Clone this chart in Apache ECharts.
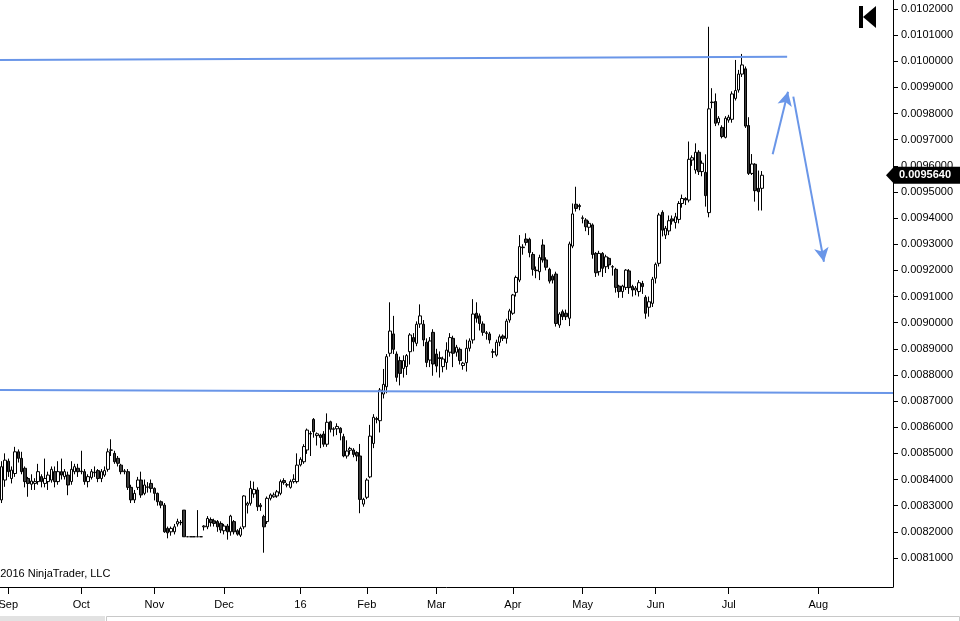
<!DOCTYPE html>
<html><head><meta charset="utf-8">
<script src="https://cdn.jsdelivr.net/npm/echarts@6.0.0/dist/echarts.min.js"></script>
<style>html,body{margin:0;padding:0;background:#fff;overflow:hidden}#c{width:960px;height:621px}</style>
</head><body><div id="c"></div>
<script>
// ---- data ----
const openP=[
0.008322,0.008398,0.00847,0.008404,0.008423,0.008506,0.008481,0.008443,0.008404,0.008382,
0.008385,0.008392,0.008411,0.008385,0.008392,0.008398,0.00843,0.008392,0.00843,0.008411,
0.008417,0.008392,0.00843,0.008443,0.00843,0.00843,0.008392,0.008408,0.008426,0.008434,
0.008404,0.008417,0.008439,0.008512,0.0085,0.008481,0.008455,0.00843,0.00843,0.00837,
0.008322,0.00837,0.008398,0.008347,0.00837,0.008385,0.008366,0.008347,0.008315,0.008302,
0.008213,0.0082,0.0082,0.00823,0.008235,0.008283,0.008181,0.008181,0.008181,0.008181,
0.008181,0.008219,0.008219,0.008247,0.008242,0.008239,0.008232,0.008204,0.008222,0.0082,
0.008239,0.008204,0.008187,0.008219,0.008302,0.008309,0.008345,0.00836,0.008302,0.008258,
0.008239,0.008328,0.008334,0.008337,0.008347,0.008396,0.00838,0.00837,0.008392,0.008392,
0.008456,0.008468,0.008513,0.008576,0.00863,0.008568,0.00857,0.008574,0.008535,0.008621,
0.008592,0.008594,0.008596,0.008564,0.00849,0.008512,0.008513,0.008503,0.00849,0.008306,
0.008332,0.00841,0.008538,0.00863,0.008625,0.008727,0.008755,0.008883,0.008957,0.00888,
0.008855,0.008825,0.008832,0.008889,0.008943,0.008921,0.008995,0.008994,0.008925,0.008857,
0.008963,0.00888,0.008866,0.008832,0.008848,0.008887,0.00894,0.008887,0.008898,0.008836,
0.008847,0.008902,0.008934,0.009036,0.009026,0.008995,0.008961,0.008957,0.008889,0.008876,
0.008925,0.008949,0.00894,0.00901,0.009036,0.009116,0.009163,0.009287,0.00932,0.009319,
0.009261,0.009201,0.009195,0.009297,0.00924,0.009204,0.009178,0.009186,0.008991,0.009042,
0.009036,0.009017,0.009293,0.009453,0.009448,0.009399,0.009393,0.009365,0.009374,0.009265,
0.009195,0.009265,0.009214,0.009246,0.009214,0.009204,0.00914,0.009119,0.009135,0.009198,
0.009138,0.009125,0.009119,0.00915,0.009097,0.009059,0.009074,0.00917,0.009227,0.009422,
0.009335,0.009351,0.009397,0.009383,0.009395,0.009456,0.009475,0.009469,0.009622,0.009584,
0.009652,0.009578,0.009575,0.009421,0.009842,0.009846,0.009765,0.009747,0.009709,0.009775,
0.009778,0.009858,0.00989,0.009951,0.009971,0.009754,0.009571,0.009606,0.009514,0.009514];
const closeP=[
0.008449,0.008474,0.00843,0.008436,0.008506,0.008481,0.00843,0.008392,0.008385,0.008394,
0.008392,0.00843,0.008392,0.008404,0.008417,0.008439,0.008392,0.00843,0.008417,0.00843,
0.008379,0.008439,0.008449,0.00843,0.008432,0.008392,0.008411,0.00843,0.008428,0.008404,
0.00843,0.008434,0.008506,0.008513,0.008468,0.008462,0.00843,0.008433,0.00837,0.008322,
0.008347,0.008398,0.008341,0.008379,0.008372,0.008366,0.008347,0.008315,0.008302,0.0082,
0.008196,0.008213,0.008219,0.008239,0.008236,0.008181,0.008181,0.008181,0.008181,0.008181,
0.008181,0.008222,0.008251,0.008235,0.008232,0.008219,0.008207,0.008222,0.0082,0.00826,
0.0082,0.008191,0.008213,0.008337,0.008309,0.008366,0.008362,0.008296,0.008296,0.008219,
0.008328,0.008341,0.008341,0.008353,0.008392,0.008388,0.008379,0.008392,0.008401,0.008455,
0.008477,0.008526,0.008589,0.008574,0.008583,0.008575,0.008561,0.008535,0.008619,0.008592,
0.008594,0.008603,0.008579,0.00849,0.008509,0.008519,0.008496,0.00849,0.008324,0.008324,
0.008398,0.008566,0.008638,0.008633,0.008742,0.008764,0.00887,0.008968,0.008898,0.008791,
0.008806,0.008855,0.008874,0.008953,0.008927,0.008994,0.009026,0.008934,0.008848,0.00893,
0.008842,0.008834,0.008863,0.008861,0.008895,0.008943,0.008883,0.008906,0.008855,0.008845,
0.008902,0.00893,0.009033,0.009017,0.008997,0.008963,0.008959,0.008934,0.008887,0.008925,
0.008946,0.00894,0.009006,0.009045,0.009106,0.009173,0.009291,0.009289,0.009307,0.009268,
0.009204,0.009199,0.009249,0.00924,0.009212,0.009159,0.009163,0.008997,0.009033,0.009023,
0.009023,0.009301,0.009416,0.009437,0.009444,0.009401,0.009367,0.00938,0.009261,0.009191,
0.009265,0.009208,0.009252,0.009221,0.009213,0.009135,0.009119,0.00914,0.009201,0.009134,
0.009125,0.009132,0.009153,0.009138,0.009036,0.00908,0.009166,0.009223,0.009412,0.009354,
0.009361,0.00939,0.009389,0.009405,0.009456,0.009475,0.009469,0.009625,0.009631,0.009652,
0.009578,0.00961,0.009486,0.009818,0.009844,0.009763,0.009782,0.009712,0.009782,0.009786,
0.009875,0.009888,0.009951,0.009986,0.009752,0.009571,0.009607,0.009505,0.009501,0.009564];
const lowP=[
0.00831,0.008372,0.00841,0.008385,0.00841,0.008465,0.00842,0.00837,0.008334,0.00836,
0.00836,0.00838,0.00837,0.00837,0.00836,0.008388,0.00837,0.00838,0.0084,0.0084,
0.00834,0.00838,0.00842,0.00841,0.00842,0.00838,0.00837,0.0084,0.00841,0.00839,
0.00839,0.00841,0.00843,0.00849,0.00846,0.00845,0.00842,0.00842,0.00836,0.00831,
0.00831,0.00836,0.00833,0.00834,0.00835,0.00835,0.00832,0.0083,0.00829,0.008196,
0.008175,0.008185,0.00819,0.00822,0.008225,0.008181,0.008181,0.008181,0.008181,0.008181,
0.008181,0.008205,0.00821,0.00822,0.00822,0.0082,0.008195,0.00819,0.00817,0.008185,
0.00819,0.008185,0.00818,0.00821,0.00827,0.0083,0.00833,0.00828,0.00828,0.00812,
0.00823,0.00832,0.00833,0.00833,0.00834,0.00838,0.00837,0.008365,0.008385,0.008385,
0.00845,0.00846,0.008498,0.00849,0.00856,0.00853,0.00852,0.008525,0.008525,0.00858,
0.008565,0.00857,0.00855,0.008485,0.00848,0.008495,0.008485,0.00847,0.008271,0.008296,
0.008325,0.008405,0.00852,0.008615,0.00858,0.00871,0.00873,0.00887,0.00888,0.008774,
0.00876,0.00879,0.0088,0.00884,0.00889,0.00891,0.00898,0.00891,0.00883,0.00883,
0.008797,0.00881,0.00879,0.00881,0.00882,0.00887,0.00883,0.00887,0.00884,0.00882,
0.008813,0.00889,0.00892,0.009,0.00897,0.00895,0.008935,0.00892,0.008865,0.00887,
0.00891,0.00893,0.00892,0.009,0.00903,0.0091,0.009155,0.00926,0.009295,0.00925,
0.00918,0.00917,0.009163,0.00923,0.0092,0.00915,0.00915,0.008985,0.00898,0.00901,
0.00901,0.008987,0.009285,0.009425,0.00943,0.00938,0.00935,0.009335,0.009245,0.009175,
0.00918,0.009175,0.00919,0.009205,0.00918,0.009115,0.009095,0.009095,0.009125,0.00911,
0.0091,0.009105,0.0091,0.00911,0.009015,0.009023,0.00906,0.00915,0.009215,0.00933,
0.00932,0.009335,0.009375,0.00936,0.00938,0.00944,0.00945,0.00946,0.0096,0.00957,
0.009565,0.00956,0.009444,0.009403,0.00982,0.009752,0.009755,0.009705,0.009705,0.009765,
0.009765,0.00985,0.00988,0.00994,0.009745,0.009565,0.009565,0.009463,0.009429,0.009429];
const highP=[
0.00847,0.0085,0.00848,0.00845,0.008525,0.008515,0.008506,0.00845,0.00841,0.00842,
0.008405,0.00846,0.00842,0.00848,0.00843,0.00845,0.00845,0.00847,0.00848,0.00844,
0.00843,0.00847,0.00846,0.00846,0.00851,0.00844,0.00842,0.00844,0.00845,0.00844,
0.00844,0.00845,0.008519,0.008554,0.00851,0.00849,0.00846,0.00844,0.00844,0.00838,
0.00836,0.00841,0.00843,0.0084,0.00839,0.0084,0.00837,0.00835,0.00832,0.00831,
0.00822,0.00822,0.00823,0.00825,0.008245,0.008283,0.008181,0.008181,0.008181,0.008283,
0.008181,0.008225,0.00826,0.008255,0.00825,0.008245,0.00824,0.00823,0.00823,0.008265,
0.008245,0.00821,0.00822,0.00834,0.008315,0.008395,0.008392,0.00837,0.00831,0.008265,
0.008335,0.008347,0.00835,0.00836,0.0084,0.008405,0.008387,0.0084,0.00842,0.0085,
0.008485,0.008535,0.008595,0.008585,0.008635,0.00858,0.008575,0.008585,0.008653,0.008625,
0.0086,0.008615,0.0086,0.008575,0.00855,0.008525,0.00852,0.008508,0.008536,0.00833,
0.008405,0.008609,0.00865,0.00864,0.00875,0.008823,0.00888,0.009078,0.009026,0.00889,
0.00887,0.008875,0.00888,0.00896,0.00896,0.009005,0.00907,0.00901,0.00894,0.008945,
0.008975,0.0089,0.00889,0.00887,0.008925,0.00896,0.00895,0.008915,0.008905,0.00885,
0.008935,0.00894,0.00909,0.009078,0.009035,0.009005,0.008968,0.008965,0.0089,0.008935,
0.008955,0.008955,0.009015,0.009053,0.00911,0.00918,0.009335,0.0093,0.009342,0.009325,
0.00927,0.009215,0.00926,0.009319,0.00925,0.00921,0.009185,0.009195,0.00904,0.00905,
0.00905,0.00931,0.009456,0.00952,0.009455,0.00941,0.0094,0.00939,0.00938,0.00927,
0.009275,0.00927,0.00926,0.00925,0.00922,0.00921,0.009145,0.009145,0.009205,0.009205,
0.009145,0.00914,0.009163,0.00916,0.009105,0.0091,0.009175,0.00923,0.00942,0.00943,
0.00937,0.00941,0.00941,0.00942,0.009465,0.00949,0.00948,0.009693,0.00964,0.009686,
0.00966,0.00962,0.009644,0.010132,0.009897,0.009877,0.00979,0.009755,0.00979,0.009795,
0.009885,0.010005,0.009967,0.010028,0.00998,0.009786,0.009645,0.00961,0.009582,0.00958];

const yTicks=[0.0081,0.0082,0.0083,0.0084,0.0085,0.0086,0.0087,0.0088,0.0089,0.009,0.0091,
  0.0092,0.0093,0.0094,0.0095,0.0096,0.0097,0.0098,0.0099,0.01,0.0101,0.0102];
const monthNames=['Jan','Feb','Mar','Apr','May','Jun','Jul','Aug','Sep','Oct','Nov','Dec'];
const lastPrice=0.009564;
// drawn trend lines / arrows: [bar position, price]
const resistanceLine=[[-0.5,0.0100049],[236.6,0.0100175]];
const supportLine=[[-0.5,0.0087424],[268.5,0.0087309]];
const arrowPaths=[[[232.26,0.0096441],[236.87,0.0098836]],[[238.47,0.0098645],[247.7,0.009233]]];

// ---- categories: trading weekdays, then calendar days in the empty future area ----
const firstBarDate=Date.UTC(2015,7,28), lastBarDate=Date.UTC(2016,6,15), lastFutureDate=Date.UTC(2016,7,23);
const holidays=['2016-01-01'];
const DAY=86400000;
const iso=t=>new Date(t).toISOString().slice(0,10);
const categories=[];
for(let t=firstBarDate;t<=lastBarDate;t+=DAY){
  const dow=new Date(t).getUTCDay(), s=iso(t);
  if(dow!==0&&dow!==6&&holidays.indexOf(s)<0) categories.push(s);
}
for(let t=lastBarDate+DAY;t<=lastFutureDate;t+=DAY) categories.push(iso(t));
const N=categories.length;
const monthStart=new Set();
for(let i=1;i<N;i++){ if(categories[i].slice(0,7)!==categories[i-1].slice(0,7)) monthStart.add(i); }

const candles=openP.map((o,i)=>[o,closeP[i],lowP[i],highP[i]]);

const FONT='"Liberation Sans", Arial, Helvetica, sans-serif';
const BLUE='#6a96e8';
const chart=echarts.init(document.getElementById('c'),null,{renderer:'canvas'});
chart.setOption({
  animation:false,
  backgroundColor:'#ffffff',
  grid:{left:0,top:0,width:893,height:587,containLabel:false,outerBoundsMode:'none'},
  xAxis:[{
    type:'category',data:categories,boundaryGap:true,
    axisLine:{show:true,onZero:false,lineStyle:{color:'#000',width:1}},
    axisTick:{show:true,alignWithLabel:true,length:7,lineStyle:{color:'#000'},interval:(i)=>monthStart.has(i)},
    axisLabel:{show:true,color:'#000',fontSize:11,fontFamily:FONT,margin:12,
      interval:(i)=>monthStart.has(i),
      formatter:(v)=>{const m=+v.slice(5,7);return m===1?v.slice(2,4):monthNames[m-1];}},
    splitLine:{show:false}
  },{
    type:'value',min:-0.5,max:N-0.5,show:false,axisLine:{onZero:false}
  }],
  yAxis:{
    type:'value',position:'right',min:0.0079888,max:0.0102344,
    axisLine:{show:true,onZero:false,lineStyle:{color:'#000',width:1}},
    axisTick:{show:true,length:5,lineStyle:{color:'#000'},customValues:yTicks},
    axisLabel:{show:true,color:'#000',fontSize:11,fontFamily:FONT,margin:8,customValues:yTicks,
      formatter:(v)=>v.toFixed(7)},
    splitLine:{show:false}
  },
  series:[{
    type:'candlestick',xAxisIndex:0,yAxisIndex:0,data:candles,barWidth:3,
    itemStyle:{color:'#ffffff',color0:'#3c3c3c',borderColor:'#000',borderColor0:'#000',borderColorDoji:'#000',borderWidth:1}
  },{
    type:'line',xAxisIndex:1,yAxisIndex:0,data:resistanceLine,symbol:'none',silent:true,
    lineStyle:{color:BLUE,width:2}
  },{
    type:'line',xAxisIndex:1,yAxisIndex:0,data:supportLine,symbol:'none',silent:true,
    lineStyle:{color:BLUE,width:2}
  },{
    type:'line',xAxisIndex:1,yAxisIndex:0,data:[],symbol:'none',silent:true,
    markLine:{silent:true,symbol:['none','arrow'],symbolSize:[11,14],animation:false,
      label:{show:false},
      lineStyle:{color:BLUE,width:2,type:'solid'},
      emphasis:{disabled:true},
      data:arrowPaths.map(p=>[{coord:p[0]},{coord:p[1]}])}
  }]
});
const yPx=chart.convertToPixel({yAxisIndex:0},lastPrice);
chart.setOption({graphic:[
  {type:'polygon',shape:{points:[[886,yPx],[894,yPx-8.5],[960,yPx-8.5],[960,yPx+8.5],[894,yPx+8.5]]},style:{fill:'#000'},z:100},
  {type:'text',x:899,y:yPx,style:{text:lastPrice.toFixed(7),fill:'#fff',font:'bold 11px '+FONT,verticalAlign:'middle',textVerticalAlign:'middle'},z:101},
  {type:'rect',shape:{x:859,y:6,width:4,height:22},style:{fill:'#000'},z:100},
  {type:'polygon',shape:{points:[[876,6],[876,28],[863,17]]},style:{fill:'#000'},z:100},
  {type:'text',x:-11,y:574,style:{text:'\u00A9 2016 NinjaTrader, LLC',fill:'#000',font:'11px '+FONT,verticalAlign:'middle',textVerticalAlign:'middle'},z:100},
  {type:'rect',shape:{x:0,y:616,width:105,height:6},style:{fill:'#e2e2e2'},z:100},
  {type:'rect',shape:{x:106.5,y:616.5,width:853,height:6},style:{fill:'#fff',stroke:'#c8c8c8',lineWidth:1},z:100}
]});
</script>
</body></html>
